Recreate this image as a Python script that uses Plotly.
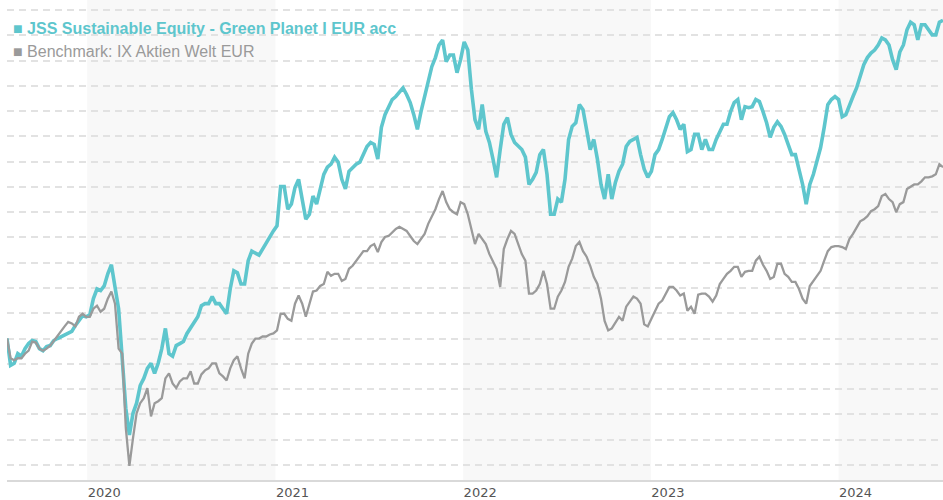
import plotly.graph_objects as go
import pandas as pd

# ---- data (indexed, start = 100), weekly observations ----
dates = pd.date_range("2019-07-29", periods=261, freq="7D")

fund = [
    100.0, 94.7, 95.1, 97.0, 96.5, 98.0, 99.0, 99.6, 99.4, 98.0,
    97.6, 98.4, 98.6, 99.6, 100.0, 100.4, 100.8, 101.2, 101.4, 102.6,
    103.5, 104.5, 104.3, 104.7, 107.9, 109.8, 109.5, 110.4, 112.8, 114.6,
    110.2, 105.9, 96.1, 86.2, 80.9, 85.2, 87.2, 90.7, 92.1, 94.1,
    95.1, 93.1, 95.1, 98.0, 102.0, 97.0, 96.5, 98.6, 99.0, 99.4,
    101.0, 102.0, 103.3, 104.3, 106.5, 106.9, 106.9, 108.3, 106.9, 106.9,
    105.9, 104.9, 109.8, 113.4, 113.0, 110.8, 110.8, 115.4, 117.3, 116.9,
    116.5, 117.7, 118.9, 120.3, 121.3, 122.3, 130.1, 130.1, 125.6, 126.6,
    129.9, 131.5, 127.6, 123.6, 124.6, 128.2, 126.6, 129.6, 132.5, 133.9,
    134.5, 135.9, 134.9, 131.5, 129.6, 133.1, 133.9, 134.5, 134.9, 136.4,
    138.0, 138.8, 138.4, 135.5, 141.8, 144.3, 145.7, 147.3, 147.9, 148.7,
    149.6, 148.3, 146.7, 144.3, 141.4, 144.9, 147.9, 150.2, 153.8, 155.6,
    158.1, 159.1, 154.8, 156.1, 156.1, 152.6, 155.2, 158.7, 157.1, 149.3,
    143.3, 141.4, 146.3, 141.0, 138.8, 135.5, 131.9, 137.4, 142.4, 143.7,
    140.4, 138.8, 138.0, 137.4, 135.9, 130.5, 131.5, 132.9, 136.4, 137.4,
    132.5, 124.6, 124.6, 127.6, 127.0, 131.5, 139.4, 142.0, 142.7, 146.3,
    145.3, 141.4, 137.4, 139.4, 135.5, 130.5, 127.6, 132.5, 127.6, 130.9,
    133.1, 134.5, 138.0, 139.0, 139.4, 139.8, 136.4, 133.5, 131.9, 133.1,
    136.4, 137.4, 139.4, 141.8, 143.9, 144.7, 143.3, 141.4, 142.4, 137.0,
    137.4, 140.4, 140.4, 137.4, 139.4, 137.4, 137.4, 139.4, 141.0, 142.4,
    142.4, 144.9, 146.7, 147.3, 143.3, 145.9, 145.7, 145.9, 147.3, 146.9,
    144.9, 142.7, 139.8, 141.8, 142.9, 142.0, 140.4, 138.4, 136.4, 136.4,
    133.5, 130.5, 126.6, 130.5, 132.5, 135.5, 137.8, 141.8, 146.3, 147.3,
    147.9, 147.3, 143.9, 144.3, 146.3, 147.9, 149.6, 151.8, 154.2, 155.6,
    156.5, 157.1, 158.1, 159.5, 159.1, 158.1, 155.2, 153.2, 156.7, 158.1,
    161.1, 162.6, 162.1, 159.1, 162.1, 162.1, 161.1, 160.1, 160.1, 162.6,
    163.0,
]

bench = [
    100.0, 96.1, 95.7, 96.1, 96.1, 97.0, 97.6, 99.4, 99.2, 98.0,
    97.6, 98.0, 98.6, 99.6, 100.4, 101.6, 102.4, 103.3, 103.0, 102.4,
    104.3, 104.9, 104.3, 104.3, 105.9, 106.5, 105.3, 105.9, 107.9, 109.3,
    106.9, 98.0, 97.0, 82.3, 74.8, 80.3, 85.2, 87.2, 88.2, 90.2,
    84.6, 87.2, 87.6, 88.2, 92.1, 93.1, 91.1, 90.2, 91.5, 92.1,
    92.1, 93.5, 91.1, 91.1, 92.9, 93.7, 94.1, 95.1, 95.1, 93.1,
    92.5, 91.7, 94.1, 95.7, 96.5, 94.1, 92.1, 97.0, 99.0, 100.0,
    100.0, 100.4, 100.4, 100.8, 101.0, 101.6, 104.9, 104.9, 103.9, 103.5,
    106.9, 108.5, 106.9, 104.3, 106.9, 109.3, 109.5, 110.4, 110.8, 113.2,
    112.4, 112.8, 112.8, 111.4, 111.8, 113.8, 114.4, 115.4, 116.4, 117.3,
    117.3, 118.3, 118.7, 117.1, 119.1, 120.1, 120.3, 121.1, 121.7, 122.1,
    121.7, 121.3, 120.3, 119.3, 118.7, 119.7, 120.7, 122.7, 124.0, 125.6,
    127.6, 129.2, 127.0, 125.6, 125.0, 124.6, 127.0, 126.6, 124.6, 121.3,
    118.7, 120.7, 119.7, 118.7, 116.7, 115.4, 113.8, 110.2, 117.7, 119.7,
    121.3, 120.7, 118.7, 116.7, 115.4, 108.9, 108.9, 109.5, 110.8, 113.4,
    110.8, 105.9, 105.9, 108.3, 109.5, 111.2, 114.2, 115.8, 118.3, 119.1,
    117.3, 116.2, 114.4, 112.2, 110.8, 107.9, 103.5, 101.6, 102.0, 103.3,
    104.3, 103.5, 106.3, 107.3, 108.3, 107.9, 106.9, 102.8, 102.4, 103.9,
    105.3, 106.9, 107.5, 108.9, 110.2, 110.2, 109.5, 108.5, 108.9, 105.5,
    106.3, 104.9, 108.7, 108.9, 108.9, 108.3, 107.3, 108.5, 110.8, 111.8,
    112.8, 113.4, 114.2, 114.2, 112.2, 113.2, 113.4, 113.4, 115.4, 116.2,
    114.6, 113.4, 111.8, 112.2, 114.8, 114.8, 112.8, 112.2, 111.2, 111.2,
    109.8, 107.9, 106.9, 110.4, 111.4, 112.4, 113.4, 115.4, 117.3, 118.1,
    118.3, 118.3, 118.1, 117.7, 119.7, 120.7, 122.1, 123.2, 123.6, 124.2,
    125.2, 125.6, 126.2, 128.2, 128.6, 127.6, 127.0, 125.0, 126.6, 127.0,
    129.6, 130.1, 130.5, 130.5, 131.1, 131.9, 131.9, 132.1, 132.5, 134.5,
    133.9,
]

fund_name = "JSS Sustainable Equity - Green Planet I EUR acc"
bench_name = "Benchmark: IX Aktien Welt EUR"

year_ticks = ["2020-01-01", "2021-01-01", "2022-01-01", "2023-01-01", "2024-01-01"]
year_labels = ["2020", "2021", "2022", "2023", "2024"]
shaded_starts = ["2020-01-01", "2022-01-01", "2024-01-01"]
shaded_ends = ["2021-01-01", "2023-01-01", "2025-01-01"]

TEAL = "#5ec6cd"
GREY = "#9a9a9a"

fig = go.Figure()
fig.add_trace(go.Scatter(x=dates, y=fund, mode="lines", name=fund_name,
                         line=dict(color=TEAL, width=3.6)))
fig.add_trace(go.Scatter(x=dates, y=bench, mode="lines", name=bench_name,
                         line=dict(color=GREY, width=2.3)))

last = dates[-1]
for s, e in zip(shaded_starts, shaded_ends):
    e_ts = min(pd.Timestamp(e), last)
    fig.add_shape(type="rect", xref="x", yref="paper", x0=s, x1=e_ts, y0=0, y1=1,
                  fillcolor="#f8f8f8", line=dict(width=0), layer="below")

fig.add_annotation(xref="paper", yref="paper", x=0.004, y=0.94, xanchor="left",
                   yanchor="middle", showarrow=False,
                   text="■ <b>" + fund_name + "</b>",
                   font=dict(family="Liberation Sans, Arial", size=16, color=TEAL))
fig.add_annotation(xref="paper", yref="paper", x=0.004, y=0.892, xanchor="left",
                   yanchor="middle", showarrow=False,
                   text="■ " + bench_name,
                   font=dict(family="Liberation Sans, Arial", size=16, color=GREY))

fig.update_layout(
    width=943, height=500,
    margin=dict(l=7, r=0, t=0, b=18),
    paper_bgcolor="white", plot_bgcolor="white",
    showlegend=False,
    xaxis=dict(
        range=[dates[0], dates[-1]],
        showgrid=False, zeroline=False,
        tickvals=year_ticks, ticktext=year_labels,
        ticks="", ticklabelshift=17,
        showline=True, linecolor="#d9d9d9", linewidth=1.5,
        tickfont=dict(family="DejaVu Sans", size=13, color="#555555"),
    ),
    yaxis=dict(
        range=[72.0, 167.0], dtick=5, tick0=0,
        showgrid=True, gridcolor="#e2e2e2", gridwidth=1.6, griddash="7px,5px",
        showticklabels=False, zeroline=False, ticks="",
    ),
)

fig.write_html("out.html", config={"displayModeBar": False},
               post_script="document.body.style.margin='0';document.body.style.overflow='hidden';")
